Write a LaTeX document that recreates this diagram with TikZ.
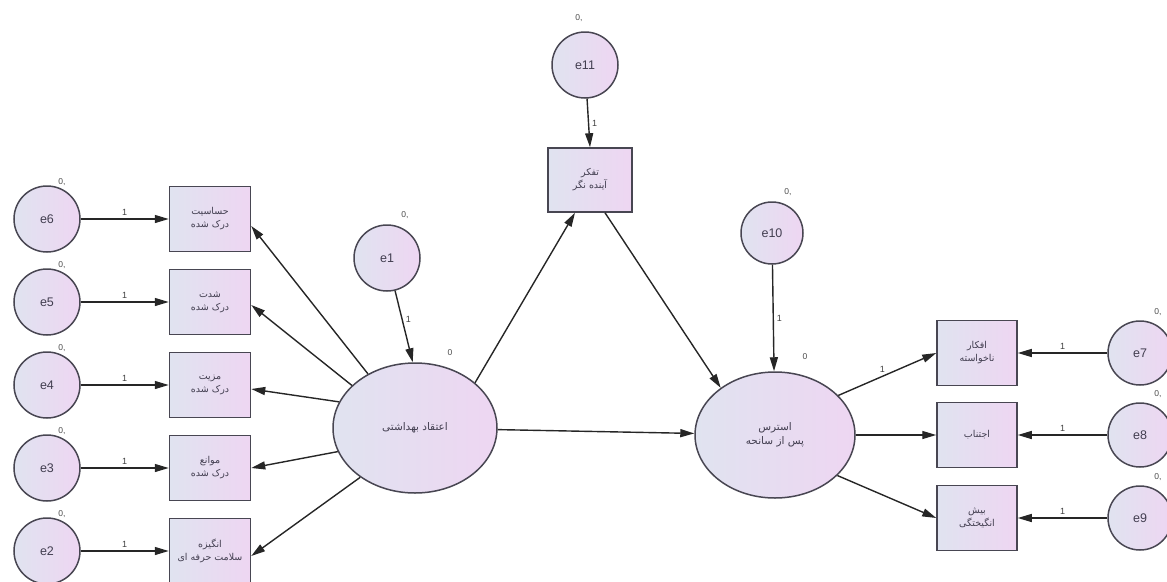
\documentclass[tikz,border=0pt]{standalone}
\usepackage{fontspec}
\setmainfont{Liberation Sans}
\newfontfamily\farsi[Script=Arabic]{DejaVu Sans}
\TeXXeTstate=1
\usetikzlibrary{shapes.geometric,arrows.meta,calc}
\definecolor{fillL}{RGB}{224,227,240}
\definecolor{fillR}{RGB}{238,214,242}
\definecolor{lineC}{RGB}{72,70,82}
\definecolor{txtC}{RGB}{66,62,80}
\newcommand{\fa}[1]{{\farsi\beginR #1\endR}}
\tikzset{
  shade/.style={draw=lineC, line width=1.5pt, left color=fillL, right color=fillR, text=txtC},
  lat/.style={shade, ellipse, inner sep=0pt, align=center, font=\farsi\fontsize{10.5}{14}\selectfont},
  err/.style={shade, circle, inner sep=0pt, minimum size=66pt, font=\fontsize{12.5}{14}\selectfont},
  obs/.style={shade, rectangle, inner sep=0pt, minimum width=81pt, minimum height=65pt, align=center, font=\farsi\fontsize{9.5}{13}\selectfont},
  arr/.style={-{Triangle[length=14pt,width=8pt]}, line width=1.4pt, draw=black!85},
  one/.style={font=\fontsize{9}{10}\selectfont, text=black!75, inner sep=3pt},
  zl/.style={font=\fontsize{8.5}{9}\selectfont, text=black!70, inner sep=0pt},
}
\begin{document}
\begin{tikzpicture}[x=1pt,y=-1pt]
\useasboundingbox (0,0) rectangle (1167,581);
% latent variables
\node[lat, minimum width=164pt, minimum height=130pt] (hb) at (415,428) {\fa{اعتقاد بهداشتی}};
\node[lat, minimum width=160pt, minimum height=126pt] (pt) at (775,435) {\fa{استرس}\\\fa{پس از سانحه}};
% observed, left
\node[obs] (b1) at (210,219) {\fa{حساسیت}\\\fa{درک شده}};
\node[obs] (b2) at (210,302) {\fa{شدت}\\\fa{درک شده}};
\node[obs] (b3) at (210,385) {\fa{مزیت}\\\fa{درک شده}};
\node[obs] (b4) at (210,468) {\fa{موانع}\\\fa{درک شده}};
\node[obs] (b5) at (210,551) {\fa{انگیزه}\\\fa{سلامت حرفه ای}};
% mediator
\node[obs, minimum width=84pt, minimum height=64pt] (tf) at (590,180) {\fa{تفکر}\\\fa{آینده نگر}};
% observed, right
\node[obs, minimum width=80pt] (r1) at (977,353) {\fa{افکار}\\\fa{ناخواسته}};
\node[obs, minimum width=80pt] (r2) at (977,435) {\fa{اجتناب}};
\node[obs, minimum width=80pt] (r3) at (977,518) {\fa{بیش}\\\fa{انگیختگی}};
% error terms
\node[err] (e6) at (47,219) {e6};
\node[err] (e5) at (47,302) {e5};
\node[err] (e4) at (47,385) {e4};
\node[err] (e3) at (47,468) {e3};
\node[err] (e2) at (47,551) {e2};
\node[err] (e1) at (387,258) {e1};
\node[err] (e11) at (585,65) {e11};
\node[err, minimum size=62pt] (e10) at (772,233) {e10};
\node[err, minimum size=64pt] (e7) at (1140,353) {e7};
\node[err, minimum size=64pt] (e8) at (1140,435) {e8};
\node[err, minimum size=64pt] (e9) at (1140,518) {e9};
% "0," labels
\foreach \n in {e6,e5,e4,e3,e2} \node[zl] at ($(\n.center)+(15,-37)$) {0,};
\node[zl] at ($(e1.center)+(18,-43)$) {0,};
\node[zl] at ($(e11.center)+(-6,-47)$) {0,};
\node[zl] at ($(e10.center)+(16,-41)$) {0,};
\foreach \n in {e7,e8,e9} \node[zl] at ($(\n.center)+(18,-41)$) {0,};
\node[zl] at ($(hb.center)+(35,-75)$) {0};
\node[zl] at ($(pt.center)+(30,-78)$) {0};
% error arrows, left
\draw[arr] (e6) -- node[one, above] {1} (b1);
\draw[arr] (e5) -- node[one, above] {1} (b2);
\draw[arr] (e4) -- node[one, above] {1} (b3);
\draw[arr] (e3) -- node[one, above] {1} (b4);
\draw[arr] (e2) -- node[one, above] {1} (b5);
% error arrows, right
\draw[arr] (e7) -- node[one, above] {1} (r1);
\draw[arr] (e8) -- node[one, above] {1} (r2);
\draw[arr] (e9) -- node[one, above] {1} (r3);
% other error arrows
\draw[arr] (e1) -- node[one, right, pos=0.4] {1} (hb.92);
\draw[arr] (e11) -- node[one, right] {1} (tf.north);
\draw[arr] (e10) -- node[one, right] {1} (pt);
% loadings from health belief
\draw[arr] (hb.131) -- ([yshift=-7pt]b1.east);
\draw[arr] (hb.146) -- ([yshift=-3pt]b2.east);
\draw[arr] (hb.161) -- ([yshift=-4pt]b3.east);
\draw[arr] (hb.197) -- (b4.east);
\draw[arr] (hb.222) -- ([yshift=-5pt]b5.east);
% structural paths
\draw[arr] (hb.37) -- ([xshift=-15pt]tf.south);
\draw[arr] ([xshift=15pt]tf.south) -- (pt.139);
\draw[arr] (hb) -- (pt);
% loadings from PTSD
\draw[arr] (pt.32) -- node[one, above, pos=0.45] {1} (r1.west);
\draw[arr] (pt.0) -- (r2.west);
\draw[arr] (pt.-33) -- (r3.west);
\end{tikzpicture}
\end{document}
